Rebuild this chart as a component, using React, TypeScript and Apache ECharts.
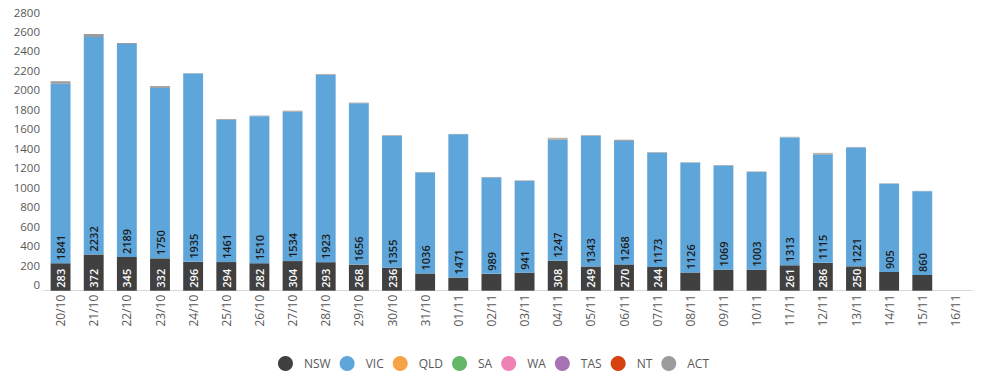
import React, { useEffect, useRef } from "react";
import * as echarts from "echarts";

const categories = [
  "20/10", "21/10", "22/10", "23/10", "24/10", "25/10", "26/10", "27/10", "28/10", "29/10",
  "30/10", "31/10", "01/11", "02/11", "03/11", "04/11", "05/11", "06/11", "07/11", "08/11",
  "09/11", "10/11", "11/11", "12/11", "13/11", "14/11", "15/11", "16/11",
];

const nsw = [283, 372, 345, 332, 296, 294, 282, 304, 293, 268, 236, 177, 135, 173, 185, 308, 249, 270, 244, 187, 216, 216, 261, 286, 250, 192, 162, null];
const vic = [1841, 2232, 2189, 1750, 1935, 1461, 1510, 1534, 1923, 1656, 1355, 1036, 1471, 989, 941, 1247, 1343, 1268, 1173, 1126, 1069, 1003, 1313, 1115, 1221, 905, 860, null];
const qld = [0, 0, 0, 0, 0, 0, 0, 0, 0, 0, 0, 0, 0, 0, 0, 7, 0, 0, 0, 0, 0, 0, 0, 6, 0, 0, 0, null];
const sa = [0, 0, 0, 0, 0, 0, 0, 0, 0, 0, 0, 0, 0, 0, 0, 0, 0, 0, 0, 0, 0, 0, 0, 0, 0, 0, 0, null];
const wa = [0, 0, 0, 0, 0, 0, 0, 0, 0, 0, 0, 0, 0, 0, 0, 0, 0, 0, 0, 0, 0, 0, 0, 0, 0, 0, 0, null];
const tas = [0, 0, 0, 0, 0, 0, 0, 0, 0, 0, 0, 0, 0, 0, 0, 0, 0, 0, 0, 0, 0, 0, 0, 0, 0, 0, 0, null];
const nt = [0, 0, 0, 0, 0, 0, 0, 0, 0, 0, 0, 0, 0, 0, 0, 0, 0, 0, 0, 0, 0, 0, 0, 0, 0, 0, 0, null];
const act = [26, 31, 9, 19, 4, 8, 6, 10, 8, 7, 6, 5, 4, 6, 6, 8, 6, 12, 6, 5, 5, 5, 6, 8, 5, 4, 3, null];

const seriesNames = ["NSW", "VIC", "QLD", "SA", "WA", "TAS", "NT", "ACT"];
const seriesColors = ["#404040", "#5ea5da", "#f5a346", "#62b868", "#ef82b5", "#a873b5", "#d4430f", "#9c9c9c"];

const yMax = 2800;
const yInterval = 200;
const nswLabelMin = 230;

const FONT = "'Open Sans', 'Noto Sans', sans-serif";

export default function App() {
  const ref = useRef<HTMLDivElement>(null);

  useEffect(() => {
    if (!ref.current) return;
    const chart = echarts.init(ref.current, null, { renderer: "svg" });

    const baseLabel = {
      rotate: 90,
      position: "insideBottom",
      align: "left",
      verticalAlign: "middle",
      distance: 3,
      fontSize: 11,
      fontWeight: 600,
      fontFamily: FONT,
    };

    const allData = [nsw, vic, qld, sa, wa, tas, nt, act];

    const series = allData.map((arr, i) => {
      let data: any[] = arr as any[];
      let label: any = { show: false };
      if (i === 0) {
        data = arr.map((v) =>
          v == null ? null : { value: v, label: { show: v >= nswLabelMin } }
        );
        label = { ...baseLabel, show: true, color: "#ffffff" };
      } else if (i === 1) {
        label = { ...baseLabel, show: true, color: "#1a1a1a" };
      }
      return {
        name: seriesNames[i],
        type: "bar",
        stack: "total",
        barWidth: "60%",
        data,
        label,
        itemStyle: { color: seriesColors[i] },
        emphasis: { disabled: true },
      };
    });

    chart.setOption({
      animation: false,
      textStyle: { fontFamily: FONT },
      grid: { left: 44, right: 15, top: 18, bottom: 87.3, containLabel: false },
      legend: {
        data: seriesNames,
        left: "center",
        top: 351,
        icon: "circle",
        itemWidth: 15,
        itemHeight: 15,
        itemGap: 9,
        textStyle: { color: "#595959", fontSize: 12, fontFamily: FONT, padding: [0, 0, 0, 6] },
      },
      xAxis: {
        type: "category",
        data: categories,
        axisTick: { show: false },
        axisLine: { lineStyle: { color: "#d9d9d9", width: 1 } },
        axisLabel: {
          rotate: 90,
          interval: 0,
          margin: 4,
          color: "#595959",
          fontSize: 12,
          fontFamily: FONT,
        },
      },
      yAxis: {
        type: "value",
        min: 0,
        max: yMax,
        interval: yInterval,
        splitLine: { show: false },
        axisLine: { show: false },
        axisTick: { show: false },
        axisLabel: {
          color: "#595959",
          fontSize: 11.5,
          fontFamily: FONT,
          margin: 4,
          verticalAlign: "bottom",
          lineHeight: 12,
          formatter: (v: number) => String(v),
        },
      },
      series,
    });

    return () => chart.dispose();
  }, []);

  return (
    <div
      ref={ref}
      style={{ position: "absolute", left: 0, top: 0, width: 987, height: 378 }}
    />
  );
}
